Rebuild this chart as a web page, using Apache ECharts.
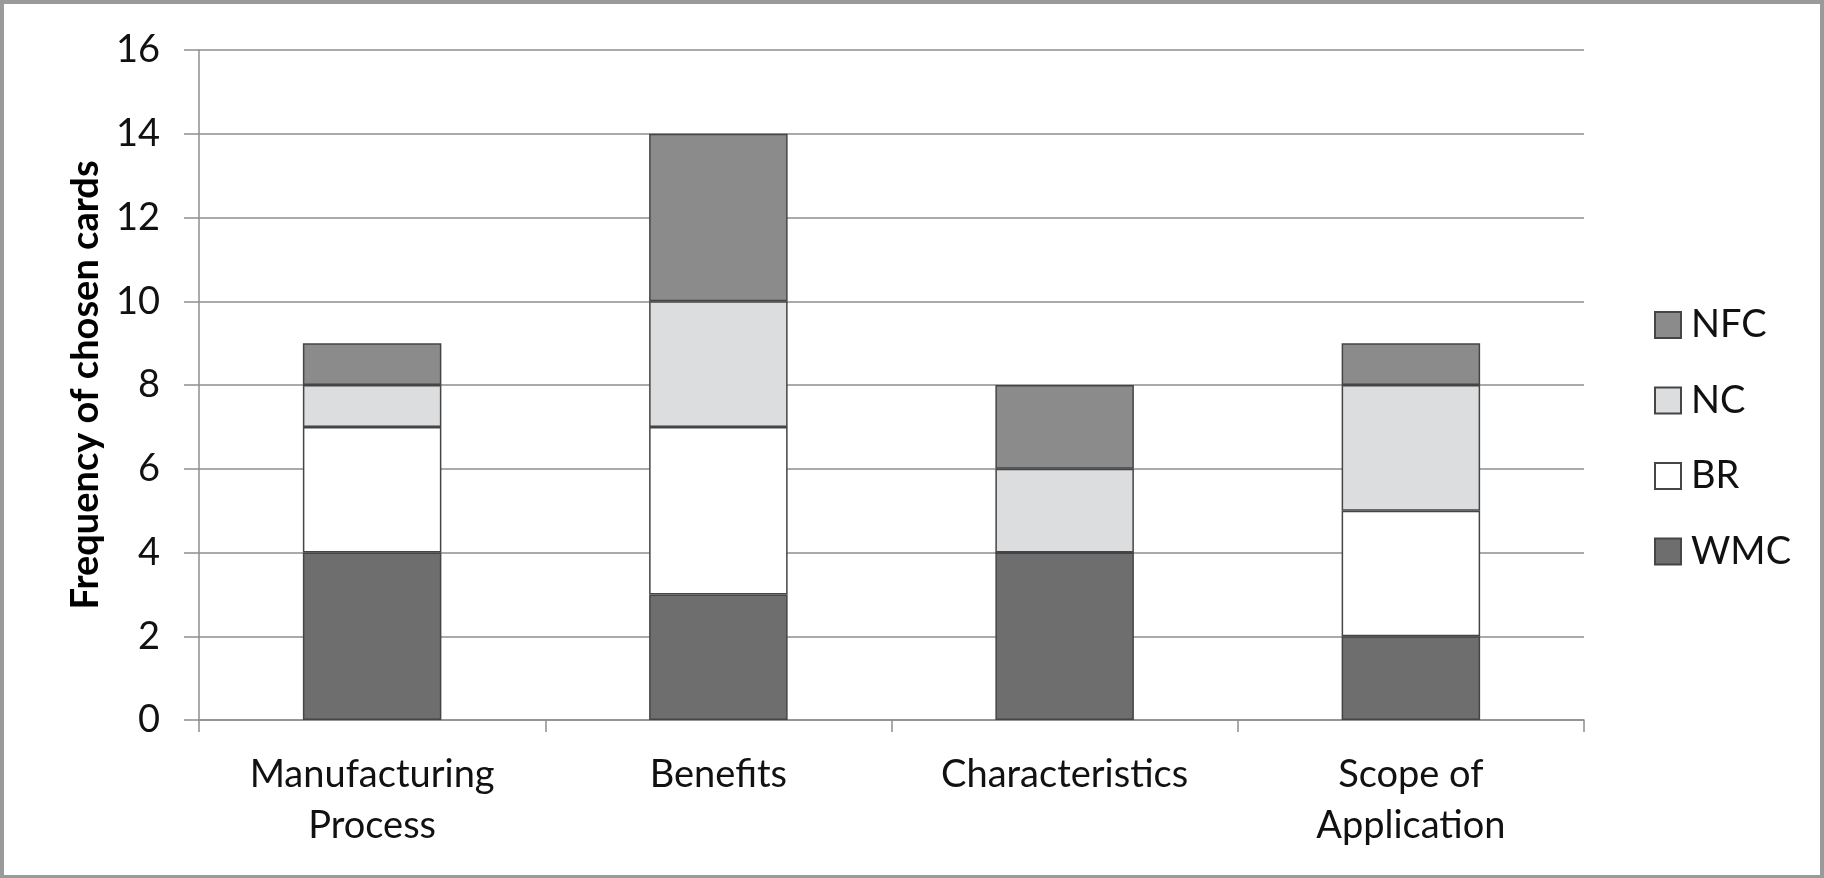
<!DOCTYPE html>
<html>
<head>
<meta charset="utf-8">
<script src="https://cdn.jsdelivr.net/npm/echarts@6/dist/echarts.min.js"></script>
<style>
html,body{margin:0;padding:0;background:#fff;}
#wrap{position:relative;width:1824px;height:878px;}
#chart{position:absolute;left:0;top:0;width:1824px;height:878px;}
#frame{position:absolute;left:0;top:0;width:1824px;height:878px;box-sizing:border-box;border:4px solid #9a9a9a;border-bottom-width:3px;pointer-events:none;}
</style>
</head>
<body>
<div id="wrap"><div id="chart"></div><div id="frame"></div></div>
<script>
const categories = ['Manufacturing\nProcess', 'Benefits', 'Characteristics', 'Scope of\nApplication'];
const WMC = [4, 3, 4, 2];
const BR  = [3, 4, 0, 3];
const NC  = [1, 3, 2, 3];
const NFC = [1, 4, 2, 1];
const yTicks = { min: 0, max: 16, interval: 2 };
const legendOrder = ['NFC', 'NC', 'BR', 'WMC'];

const FONT = 'Lato';
const chart = echarts.init(document.getElementById('chart'), null, { renderer: 'canvas' });

function bar(name, data, color) {
  return {
    name: name, type: 'bar', stack: 'total', data: data,
    barWidth: '40%',
    itemStyle: { color: color, borderColor: '#454545', borderWidth: 1.5 },
    emphasis: { disabled: true },
    animation: false
  };
}

chart.setOption({
  animation: false,
  backgroundColor: '#ffffff',
  grid: { left: 199, right: 240, top: 50, bottom: 158, containLabel: false },
  legend: {
    orient: 'vertical',
    left: 1649, top: 301,
    data: legendOrder,
    itemWidth: 26, itemHeight: 26, itemGap: 37.5,
    icon: 'rect',
    textStyle: { fontFamily: FONT, fontSize: 38, color: '#111', padding: [0, 0, 0, 5] },
    selectedMode: false
  },
  xAxis: {
    type: 'category',
    data: categories,
    axisLine: { show: true, lineStyle: { color: '#8e8e8e', width: 1.5 } },
    axisTick: { show: true, length: 12, lineStyle: { color: '#8e8e8e', width: 1.5 } },
    axisLabel: { fontFamily: FONT, fontSize: 38, color: '#111', margin: 29, lineHeight: 51, interval: 0 },
    splitLine: { show: false }
  },
  yAxis: {
    type: 'value',
    min: yTicks.min, max: yTicks.max, interval: yTicks.interval,
    name: 'Frequency of chosen cards',
    nameLocation: 'middle',
    nameGap: 92,
    nameTextStyle: { fontFamily: FONT, fontSize: 38, fontWeight: 'bold', color: '#000' },
    axisLine: { show: true, lineStyle: { color: '#8e8e8e', width: 1.5 } },
    axisTick: { show: true, length: 15, lineStyle: { color: '#8e8e8e', width: 1.5 } },
    axisLabel: { fontFamily: FONT, fontSize: 38, color: '#111', margin: 39 },
    splitLine: { show: true, lineStyle: { color: '#8e8e8e', width: 1.5 } }
  },
  series: [
    bar('WMC', WMC, '#6e6e6e'),
    bar('BR', BR, '#ffffff'),
    bar('NC', NC, '#dcdddf'),
    bar('NFC', NFC, '#8b8b8b')
  ]
});
</script>
</body>
</html>
